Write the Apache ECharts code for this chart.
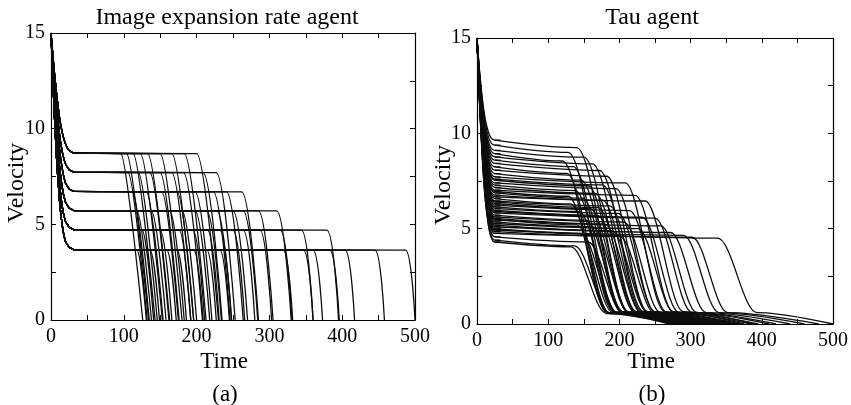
<!DOCTYPE html>
<html>
<head>
<meta charset="utf-8">
<script src="https://cdn.jsdelivr.net/npm/echarts/dist/echarts.min.js"></script>
<style>html,body{margin:0;padding:0;background:#fff}#chart{width:851px;height:405px}</style>
</head>
<body>
<div id="chart"></div>
<script>
// ---------- texts ----------
const leftTitle = 'Image expansion rate agent';
const rightTitle = 'Tau agent';
const xName = 'Time';
const yName = 'Velocity';
const leftTag = '(a)';
const rightTag = '(b)';
const xTickLabels = [0, 100, 200, 300, 400, 500];
const yTickLabels = [0, 5, 10, 15];

// ---------- (a) image expansion rate agent ----------
const leftPlateaus = [8.7, 7.7, 6.7, 5.7, 4.7, 3.65];
const leftInitTimes = [0, 4, 8, 12, 16, 20, 25, 32];
const leftInitValues = [
  [15, 13.2, 11.7, 10.5, 9.7, 9.2, 8.85, 8.72],
  [15, 12.8, 11.0, 9.6, 8.7, 8.15, 7.85, 7.72],
  [15, 12.4, 10.3, 8.8, 7.8, 7.15, 6.85, 6.72],
  [15, 12.0, 9.6, 7.9, 6.8, 6.15, 5.85, 5.72],
  [15, 11.6, 8.9, 7.0, 5.8, 5.15, 4.85, 4.72],
  [15, 11.2, 8.2, 6.1, 4.8, 4.1, 3.8, 3.67]
];
const leftBrakeStart = [
  [96, 104, 113, 123, 133, 150, 166, 183, 200],
  [106, 120, 136, 150, 166, 182, 209, 227],
  [112, 131, 152, 173, 198, 223, 241, 262],
  [118, 138, 163, 180, 198, 214, 228, 250, 264, 285, 310],
  [125, 150, 176, 195, 215, 232, 250, 264, 287, 315, 344, 379],
  [118, 136, 159, 173, 196, 214, 232, 319, 347, 360, 383, 404, 445, 487]
];
const leftStopTime = [
  [126, 134, 143, 153, 163, 180, 196, 213, 230],
  [132, 146, 162, 176, 192, 208, 235, 253],
  [135, 154, 175, 196, 221, 246, 264, 285],
  [138, 158, 183, 200, 218, 234, 248, 270, 284, 305, 330],
  [141, 166, 192, 211, 231, 248, 266, 280, 303, 331, 360, 395],
  [131, 149, 172, 186, 209, 227, 245, 332, 360, 373, 396, 417, 458, 500]
];

// ---------- (b) tau agent ----------
const rightInitTimes = [0, 8, 16, 25, 33];
const rightLevel25 = [9.64,9.38,9.11,8.94,8.77,8.59,8.42,8.24,8.07,7.89,7.72,7.54,7.40,7.28,7.16,7.02,6.88,6.76,6.67,6.58,6.46,6.32,6.23,6.14,6.06,5.97,5.83,5.71,5.62,5.54,5.45,5.36,5.27,5.19,5.10,5.01,4.92,4.84,4.75,4.57,4.40,4.95,4.30,6.95,7.60,5.90,5.50,6.40];
const rightV8 = [11.68,11.52,11.35,11.24,11.14,11.03,10.92,10.81,10.70,10.59,10.49,10.37,10.29,10.21,10.14,10.05,9.97,9.89,9.84,9.78,9.71,9.62,9.56,9.51,9.46,9.40,9.31,9.24,9.18,9.13,9.08,9.02,8.97,8.92,8.86,8.81,8.75,8.70,8.65,8.53,8.43,8.77,8.37,10.01,10.41,9.36,9.11,9.67];
const rightV16 = [10.07,9.83,9.58,9.42,9.27,9.10,8.95,8.78,8.62,8.46,8.30,8.14,8.01,7.90,7.79,7.66,7.53,7.42,7.34,7.25,7.14,7.01,6.93,6.85,6.78,6.69,6.56,6.45,6.37,6.30,6.21,6.13,6.05,5.97,5.89,5.81,5.73,5.65,5.57,5.40,5.25,5.75,5.16,7.59,8.19,6.63,6.26,7.09];
const rightBrakeLevel = [9.25,9.00,8.75,8.55,8.40,8.25,8.05,7.90,7.75,7.55,7.40,7.25,7.10,7.00,6.85,6.75,6.60,6.50,6.45,6.30,6.20,6.05,5.95,5.90,5.80,5.70,5.55,5.45,5.35,5.25,5.15,5.10,5.00,4.90,4.80,4.75,4.65,4.60,4.55,4.30,4.10,4.50,4.05,6.70,7.30,5.60,5.20,6.10];
const rightBrakeStart = [140,128,150,120,162,135,172,126,182,146,208,156,195,138,166,222,148,176,236,131,186,159,214,143,198,169,250,153,206,179,258,162,226,189,272,146,290,200,302,156,137,338,132,128,176,232,140,170];
const rightLowTime = [205,192,213,183,224,196,232,186,240,205,264,213,250,195,222,276,204,231,290,186,240,213,267,197,251,222,302,206,258,231,309,213,277,240,322,196,340,250,352,205,187,393,182,184,234,284,191,224];
const rightLowLevel = [0.65,0.65,0.65,0.6,0.65,0.6,0.65,0.6,0.65,0.6,0.65,0.6,0.65,0.6,0.6,0.65,0.6,0.6,0.65,0.6,0.6,0.6,0.6,0.6,0.6,0.6,0.6,0.6,0.6,0.6,0.6,0.6,0.6,0.6,0.6,0.55,0.6,0.55,0.6,0.55,0.55,0.6,0.55,0.6,0.65,0.6,0.6,0.6];
const rightStopTime = [290,280,300,270,315,285,325,275,335,300,360,310,345,290,320,375,300,330,390,280,340,310,370,295,355,325,410,305,365,340,420,315,385,350,440,300,460,360,480,310,285,500,275,278,330,395,290,325];

// ---------- build ----------
const FONT = 'Liberation Serif';
const LINE = '#0d0d0d';

function xAxisFor(gi, pos) {
  const bottom = pos === 'bottom';
  return {
    type: 'value', gridIndex: gi, position: pos, min: 0, max: 500, interval: 50,
    axisLine: {show: true, onZero: false, lineStyle: {color: '#000', width: 1.2}},
    axisTick: {show: true, inside: true, length: 5, lineStyle: {color: '#000', width: 1}},
    axisLabel: {show: bottom, margin: 7, color: '#000', fontFamily: FONT, fontSize: 20,
      showMinLabel: true, showMaxLabel: true,
      formatter: v => xTickLabels.includes(v) ? String(v) : ''},
    splitLine: {show: false}
  };
}
function yAxisFor(gi, pos) {
  const left = pos === 'left';
  return {
    type: 'value', gridIndex: gi, position: pos, min: 0, max: 15, interval: 2.5,
    axisLine: {show: true, onZero: false, lineStyle: {color: '#000', width: 1.2}},
    axisTick: {show: true, inside: true, length: 5, lineStyle: {color: '#000', width: 1}},
    axisLabel: {show: left, margin: 6, color: '#000', fontFamily: FONT, fontSize: 20,
      showMinLabel: true, showMaxLabel: true,
      formatter: v => yTickLabels.includes(v) ? String(v) : ''},
    splitLine: {show: false}
  };
}

const series = [];
function addLine(xi, yi, data, smooth, mono) {
  const s = {type: 'line', xAxisIndex: xi, yAxisIndex: yi, data: data,
    smooth: smooth, showSymbol: false, symbol: 'none', silent: true, animation: false,
    lineStyle: {color: LINE, width: 1.3}, emphasis: {disabled: true}};
  if (mono) s.smoothMonotone = mono;
  series.push(s);
}

leftPlateaus.forEach((p, g) => {
  leftBrakeStart[g].forEach((tb, i) => {
    const pts = leftInitTimes.map((t, k) => [t, leftInitValues[g][k]]);
    pts.push([tb, p]);
    pts.push([leftStopTime[g][i], 0]);
    addLine(0, 0, pts, 0.1);
  });
});

rightLevel25.forEach((a, i) => {
  const init = [15, rightV8[i], rightV16[i], a, a];
  addLine(2, 2, rightInitTimes.map((t, k) => [t, init[k]]), 0.4);
  addLine(2, 2, [[25, a], [rightBrakeStart[i], rightBrakeLevel[i]],
    [rightLowTime[i], rightLowLevel[i]], [rightStopTime[i], 0]], 0.35, 'x');
});

function txt(text, x, y, size, rot) {
  const o = {type: 'text', x: x, y: y, silent: true,
    style: {text: text, fontFamily: FONT, fontSize: size, fill: '#000', align: 'center', verticalAlign: 'middle'}};
  if (rot) o.rotation = rot;
  return o;
}

const option = {
  animation: false,
  backgroundColor: '#fff',
  grid: [
    {left: 51, top: 33, width: 364, height: 287},
    {left: 477, top: 38, width: 364, height: 286}
  ],
  xAxis: [xAxisFor(0, 'bottom'), xAxisFor(0, 'top'), xAxisFor(1, 'bottom'), xAxisFor(1, 'top')],
  yAxis: [yAxisFor(0, 'left'), yAxisFor(0, 'right'), yAxisFor(1, 'left'), yAxisFor(1, 'right')],
  series: series,
  graphic: [
    txt(leftTitle, 227, 18, 24),
    txt(rightTitle, 652, 18, 24),
    txt(yName, 17, 183, 24, Math.PI / 2),
    txt(yName, 444, 185, 24, Math.PI / 2),
    txt(xName, 224, 362, 23),
    txt(xName, 651, 362, 23),
    txt(leftTag, 225, 395, 23),
    txt(rightTag, 652, 395, 23)
  ]
};

const chart = echarts.init(document.getElementById('chart'), null, {renderer: 'canvas'});
chart.setOption(option);
</script>
</body>
</html>
